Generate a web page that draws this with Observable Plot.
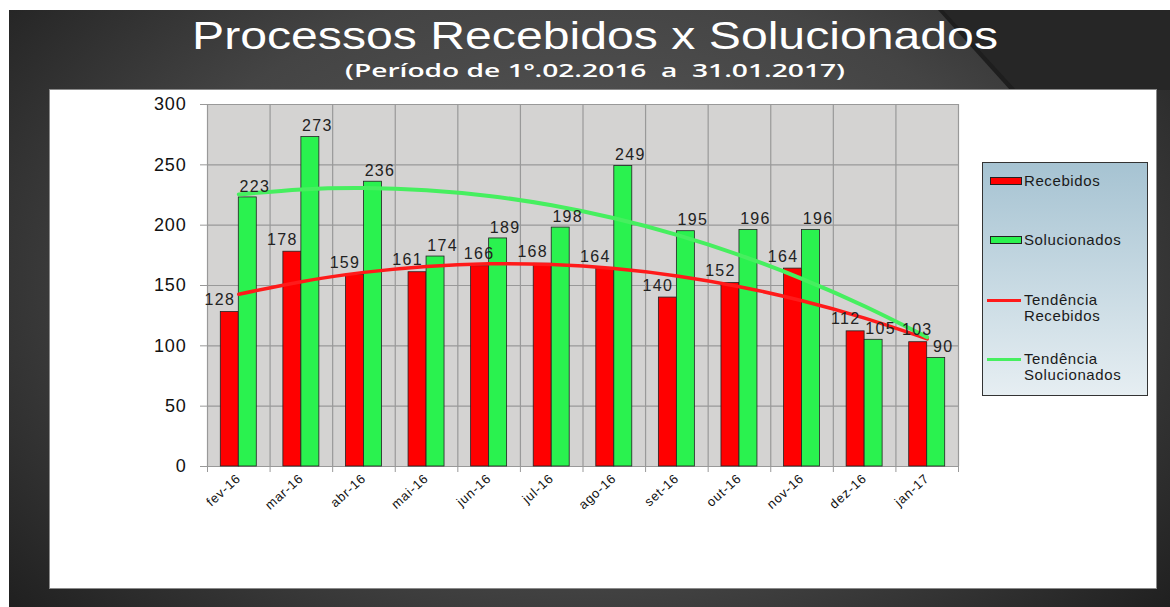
<!DOCTYPE html>
<html>
<head>
<meta charset="utf-8">
<script src="https://cdn.jsdelivr.net/npm/d3@7"></script>
<script src="https://cdn.jsdelivr.net/npm/@observablehq/plot@0.6"></script>
<style>
  html, body { margin: 0; padding: 0; background: #ffffff; }
  body { width: 1170px; height: 607px; position: relative; overflow: hidden; font-family: "Liberation Sans", Arial, sans-serif; }
  #bg { position: absolute; left: 9px; top: 10px; width: 1161px; height: 597px;
        background: radial-gradient(ellipse 70% 90% at 50% 45%, #5c5c5c 0%, #444 55%, #1a1a1a 100%); }
  #shade { position: absolute; left: 0; top: 0; width: 1170px; height: 607px; background: #262626;
           clip-path: polygon(940px 10px, 1170px 10px, 1170px 90px, 1013px 90px); }
  #edge { position: absolute; left: 0; top: 0; width: 1170px; height: 607px; background: #1e1e1e;
          clip-path: polygon(938px 10px, 943px 10px, 1016px 90px, 1010px 90px); }
  .head { position: absolute; top: 0; left: 0; color: #fff; white-space: nowrap; transform-origin: 0 0; }
  #title { font-size: 39px; line-height: 44px; }
  #subtitle { font-family: "Open Sans", "DejaVu Sans", sans-serif; font-size: 18px; line-height: 22px; font-weight: 600; }
  #panel { position: absolute; left: 50px; top: 90px; width: 1106px; height: 498px; background: #fff;
           box-shadow: 0 0 0 1px #8a8a8a; }
  #chart { position: absolute; left: 0; top: 0; }
  #legend { position: absolute; left: 932px; top: 72px; width: 164px; height: 232px;
            border: 1.5px solid #333; background: linear-gradient(#a6c3d2, #e6eef2); }
  .sw { position: absolute; width: 30px; height: 6px; border: 1px solid #222; }
  .ln { position: absolute; width: 34px; height: 3px; }
  .lt { position: absolute; font-size: 15px; line-height: 16px; color: #1a1a1a; letter-spacing: 0.6px; }
</style>
</head>
<body>
<div id="bg"></div>
<div id="shade"></div>
<div id="edge"></div>
<div id="title" class="head">Processos Recebidos x Solucionados</div>
<div id="subtitle" class="head">(Período de 1º.02.2016&nbsp; a&nbsp; 31.01.2017)</div>
<div id="panel">
  <div id="chart"></div>
  <div id="legend"></div>
</div>
<script>
const months = ["fev-16","mar-16","abr-16","mai-16","jun-16","jul-16","ago-16","set-16","out-16","nov-16","dez-16","jan-17"];
const recebidos = [128,178,159,161,166,168,164,140,152,164,112,103];
const solucionados = [223,273,236,174,189,198,249,195,196,196,105,90];
const yTicks = [0,50,100,150,200,250,300];
const seriesNames = ["Recebidos","Solucionados","Tendência Recebidos","Tendência Solucionados"];
const colors = { rec: "#ff0000", sol: "#2af24f", trendRec: "#ff1a1a", trendSol: "#46ef5f" };

// stretch the heading lines to the reference's widths
function fitHead(id, left, width, top) {
  const el = document.getElementById(id);
  const w = el.getBoundingClientRect().width;
  el.style.transform = `translate(${left}px, ${top}px) scaleX(${width / w})`;
}
fitHead("title", 192, 806, 14);
fitHead("subtitle", 345, 500, 59);

// least-squares polynomial (order 2) trend, as the spreadsheet trendline
function quadFit(vals) {
  const n = vals.length, xs = vals.map((_, i) => i + 1);
  const S = k => d3.sum(xs, x => x ** k);
  const Sy = k => d3.sum(xs, (x, i) => x ** k * vals[i]);
  const A = [[n, S(1), S(2)], [S(1), S(2), S(3)], [S(2), S(3), S(4)]];
  const B = [Sy(0), Sy(1), Sy(2)];
  for (let c = 0; c < 3; c++) {
    for (let r = c + 1; r < 3; r++) {
      const f = A[r][c] / A[c][c];
      for (let k = c; k < 3; k++) A[r][k] -= f * A[c][k];
      B[r] -= f * B[c];
    }
  }
  const coef = [0, 0, 0];
  for (let r = 2; r >= 0; r--) {
    let s = B[r];
    for (let k = r + 1; k < 3; k++) s -= A[r][k] * coef[k];
    coef[r] = s / A[r][r];
  }
  return xs.map(x => coef[0] + coef[1] * x + coef[2] * x * x);
}

const rows = months.map((m, i) => ({ i, month: m, rec: recebidos[i], sol: solucionados[i] }));
const trendRec = quadFit(recebidos).map((v, i) => ({ x: i + 0.5, y: v }));
const trendSol = quadFit(solucionados).map((v, i) => ({ x: i + 0.5, y: v }));

const chart = Plot.plot({
  width: 1106, height: 498,
  marginLeft: 157, marginTop: 14, marginRight: 198, marginBottom: 122,
  x: { type: "linear", domain: [0, 12] },
  y: { domain: [0, 300] },
  style: { fontFamily: "Liberation Sans, Arial, sans-serif", background: "transparent", color: "#111" },
  marks: [
    Plot.frame({ fill: "#d4d3d2", stroke: null }),
    Plot.ruleY(yTicks, { stroke: "#999", strokeWidth: 1.2 }),
    Plot.ruleX(d3.range(13), { stroke: "#999", strokeWidth: 1.2 }),
    Plot.axisY({ ticks: yTicks, tickSize: 7, tickPadding: 14, stroke: "#999", fill: "#111", fontSize: 18, label: null, tickFormat: d => d }),
    Plot.axisX({ ticks: d3.range(13), tickSize: 6, stroke: "#999", tickFormat: () => "", label: null }),
    Plot.axisX({ ticks: d3.range(12).map(i => i + 0.5), tickSize: 0, tickPadding: 10, tickRotate: -42,
                 tickFormat: d => months[Math.floor(d)], fill: "#111", fontSize: 13, label: null }),
    Plot.rectY(rows, { x1: "i", x2: d => d.i + 1, y: "rec", fill: colors.rec, stroke: "#222", strokeWidth: 0.8,
                       insetLeft: 13.3, insetRight: 31.3 }),
    Plot.rectY(rows, { x1: "i", x2: d => d.i + 1, y: "sol", fill: colors.sol, stroke: "#222", strokeWidth: 0.8,
                       insetLeft: 31.3, insetRight: 13.3 }),
    Plot.line(trendRec, { x: "x", y: "y", stroke: colors.trendRec, strokeWidth: 3.5, curve: "natural" }),
    Plot.line(trendSol, { x: "x", y: "y", stroke: colors.trendSol, strokeWidth: 4, curve: "natural" }),
    Plot.text(rows, { x: d => d.i + 0.5, y: "rec", text: d => String(d.rec), dx: -19, dy: -12,
                      fill: "#222", fontSize: 16, className: "dlabel" }),
    Plot.text(rows, { x: d => d.i + 0.5, y: "sol", text: d => String(d.sol), dx: 16, dy: -11,
                      fill: "#222", fontSize: 16, className: "dlabel" })
  ]
});
chart.querySelectorAll("text").forEach(t => t.style.letterSpacing = "0.8px");
chart.querySelectorAll(".dlabel text").forEach(t => t.style.letterSpacing = "1.3px");
document.getElementById("chart").appendChild(chart);

// simple collision avoidance for data labels: nudge a label right if it overlaps one to its left
{
  const labels = Array.from(chart.querySelectorAll(".dlabel text"))
    .map(el => ({ el, b: el.getBBox() }))
    .map(o => ({ el: o.el, x0: o.el.getBoundingClientRect().left, x1: o.el.getBoundingClientRect().right,
                 y0: o.el.getBoundingClientRect().top, y1: o.el.getBoundingClientRect().bottom }))
    .sort((a, b) => a.x0 - b.x0);
  const placed = [];
  labels.forEach(l => {
    let shift = 0;
    placed.forEach(p => {
      const vOverlap = l.y0 < p.y1 - 2 && l.y1 > p.y0 + 2;
      if (vOverlap && l.x0 + shift < p.x1 + 4 && l.x1 + shift > p.x0) shift = p.x1 + 6 - l.x0;
    });
    if (shift > 0) { l.el.setAttribute("dx", shift); l.x0 += shift; l.x1 += shift; }
    placed.push(l);
  });
}

// legend (positions relative to the legend box)
const legend = document.getElementById("legend");
const items = [
  { kind: "sw", color: colors.rec, y: 18, label: [seriesNames[0]] },
  { kind: "sw", color: colors.sol, y: 77, label: [seriesNames[1]] },
  { kind: "ln", color: colors.trendRec, y: 137, label: ["Tendência", "Recebidos"] },
  { kind: "ln", color: colors.trendSol, y: 196, label: ["Tendência", "Solucionados"] }
];
items.forEach(it => {
  const s = document.createElement("div");
  s.className = it.kind;
  s.style.background = it.color;
  if (it.kind === "sw") { s.style.left = "7px"; s.style.top = (it.y - 4) + "px"; }
  else { s.style.left = "4px"; s.style.top = (it.y - 1.5) + "px"; }
  legend.appendChild(s);
  const t = document.createElement("div");
  t.className = "lt";
  t.style.left = "41px";
  t.style.top = (it.y - 8) + "px";
  t.innerHTML = it.label.join("<br>");
  legend.appendChild(t);
});
</script>
</body>
</html>
